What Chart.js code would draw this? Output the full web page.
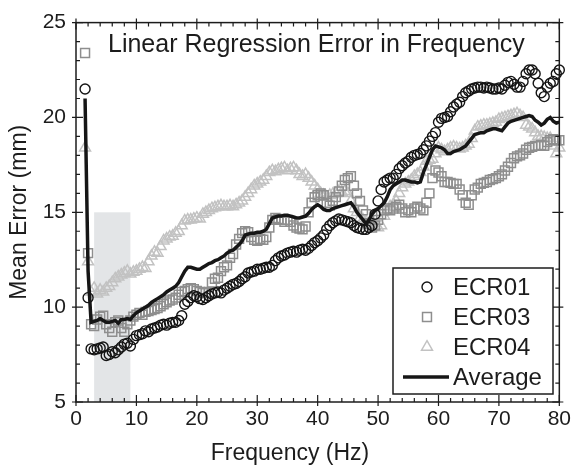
<!DOCTYPE html>
<html>
<head>
<meta charset="utf-8">
<script src="https://cdn.jsdelivr.net/npm/chart.js@4.4.1/dist/chart.umd.min.js"></script>
<style>
  html, body { margin:0; padding:0; background:#fff; }
  #wrap { width:576px; height:465px; }
</style>
</head>
<body>
<div id="wrap"><canvas id="errChart" width="576" height="465"></canvas></div>
<script>
// ========== Data ==========
const freqHz = [
  1.5, 2, 2.5, 3, 3.5, 4, 4.5,
  5, 5.5, 6, 6.5, 7, 7.5, 8, 8.5, 9, 9.5,
  10, 10.5, 11, 11.5, 12, 12.5, 13, 13.5, 14, 14.5,
  15, 15.5, 16, 16.5, 17, 17.5, 18, 18.5, 19, 19.5,
  20, 20.5, 21, 21.5, 22, 22.5, 23, 23.5, 24, 24.5,
  25, 25.5, 26, 26.5, 27, 27.5, 28, 28.5, 29, 29.5,
  30, 30.5, 31, 31.5, 32, 32.5, 33, 33.5, 34, 34.5,
  35, 35.5, 36, 36.5, 37, 37.5, 38, 38.5, 39, 39.5,
  40, 40.5, 41, 41.5, 42, 42.5, 43, 43.5, 44, 44.5,
  45, 45.5, 46, 46.5, 47, 47.5, 48, 48.5, 49, 49.5,
  50, 50.5, 51, 51.5, 52, 52.5, 53, 53.5, 54, 54.5,
  55, 55.5, 56, 56.5, 57, 57.5, 58, 58.5, 59, 59.5,
  60, 60.5, 61, 61.5, 62, 62.5, 63, 63.5, 64, 64.5,
  65, 65.5, 66, 66.5, 67, 67.5, 68, 68.5, 69, 69.5,
  70, 70.5, 71, 71.5, 72, 72.5, 73, 73.5, 74, 74.5,
  75, 75.5, 76, 76.5, 77, 77.5, 78, 78.5, 79, 79.5,
  80
];

const ecr01 = [
  21.5, 10.5, 7.8, 7.75, 7.8, 7.85, 7.9,
  7.45, 7.5, 7.65, 7.6, 7.75, 7.9, 8.05, 8.1, 7.95, 8.3,
  8.5, 8.55, 8.6, 8.75, 8.7, 8.85, 8.9, 8.95, 9.05, 9.1,
  9.05, 9.15, 9.2, 9.2, 9.3, 9.55, 10.15, 10.3, 10.5, 10.6,
  10.55, 10.45, 10.4, 10.5, 10.6, 10.7, 10.75, 10.8, 10.75, 10.9,
  11.0, 11.1, 11.2, 11.25, 11.35, 11.5, 11.6, 11.8, 11.85, 11.9,
  12.0, 12.0, 12.05, 12.1, 12.1, 12.2, 12.45, 12.6, 12.7, 12.75,
  12.85, 12.9, 12.95, 12.9, 13.0, 13.05, 13.0, 13.1, 13.25, 13.4,
  13.5, 13.65, 13.8, 14.1, 14.3, 14.45, 14.55, 14.65, 14.6, 14.55,
  14.5, 14.45, 14.3, 14.2, 14.15, 14.1, 14.1, 14.2, 14.3, 14.9,
  15.6, 16.2, 16.6, 16.7, 16.8, 16.8, 17.0, 17.3, 17.45, 17.6,
  17.7, 17.9, 18.0, 18.05, 18.1, 18.3, 18.5, 18.75, 19.0, 19.2,
  19.75, 19.95, 20.0, 20.05, 20.3, 20.55, 20.7, 20.8, 21.1, 21.3,
  21.4, 21.5, 21.55, 21.6, 21.6, 21.55, 21.6, 21.55, 21.5, 21.5,
  21.55, 21.5, 21.7, 21.85, 21.9, 21.75, 21.6, 21.6, 21.9, 22.3,
  22.5, 22.5, 22.3, 21.8, 21.3, 21.1, 21.6, 21.8, 21.9, 22.3,
  22.5
];

const ecr03 = [
  23.4, 12.85, 9.1, 9.0, 9.35, 9.5, 9.55,
  9.1, 8.9, 8.7, 9.2, 9.3, 8.9, 8.7, 9.1, 9.3, 9.5,
  9.6, 9.7, 9.6, 9.75, 9.8, 9.85, 9.9, 9.95, 10.05, 10.15,
  10.25, 10.35, 10.4, 10.5, 10.65, 10.8, 10.85, 10.95, 11.0, 10.95,
  10.85, 10.8, 10.75, 10.75, 10.8, 11.3, 11.5, 11.55, 11.9, 12.1,
  12.2, 12.6, 12.8, 13.3, 13.6, 13.9, 14.0, 13.95, 13.7, 13.55,
  13.5, 13.6, 13.55, 13.7, 14.2, 14.6, 14.7, 14.65, 14.6, 14.5,
  14.6, 14.5, 14.3, 14.2, 14.15, 14.1, 14.25, 15.0, 15.5, 15.8,
  15.9, 16.0, 15.9, 15.5, 15.35, 15.6, 15.8, 16.1, 16.4, 16.7,
  16.8, 16.9, 16.4, 16.0, 15.6, 15.1, 14.9, 14.4, 14.2, 14.3,
  14.6, 14.9, 15.1, 15.2, 15.1, 15.2, 15.3, 15.4, 15.2, 15.0,
  15.1, 15.0, 15.2, 15.3, 15.2, 15.1, 15.5, 16.0, 16.8, 17.2,
  17.1, 16.9, 16.6, 16.6, 16.55, 16.5, 16.5, 16.2, 15.9, 15.5,
  15.4, 15.9, 16.2, 16.3, 16.5, 16.55, 16.6, 16.7, 16.75, 16.8,
  16.9, 17.0, 17.2, 17.4, 17.6, 17.85, 17.95, 18.0, 18.1, 18.3,
  18.4, 18.45, 18.5, 18.5, 18.55, 18.5, 18.7, 18.8, 18.85, 18.8,
  18.8
];

const ecr04 = [
  18.4, 12.4, 10.8, 11.0, 10.7, 10.9, 10.8,
  11.0, 11.1, 11.3, 11.5, 11.6, 11.7, 11.8, 11.9, 11.75, 11.85,
  11.9, 12.0, 12.1, 12.05, 12.4, 12.7, 12.9, 12.85, 13.2, 13.5,
  13.6, 13.7, 13.75, 13.9, 14.0, 14.3, 14.55, 14.6, 14.6, 14.65,
  14.7, 14.65, 14.9, 15.0, 15.1, 15.2, 15.25, 15.3, 15.35, 15.3,
  15.3, 15.35, 15.3, 15.4, 15.5, 15.6, 15.8, 16.0, 16.2, 16.4,
  16.5, 16.6, 16.7, 16.9, 17.1, 17.2, 17.15, 17.25, 17.3, 17.35,
  17.2, 17.3, 17.35, 17.2, 17.0, 16.9, 17.0, 16.8, 16.6, 16.4,
  16.2, 16.0, 15.9, 15.8, 15.9, 15.95, 16.0, 16.1, 16.05, 16.1,
  16.0, 15.6, 15.2, 15.0, 14.7, 14.6, 14.5, 14.4, 14.3, 14.25,
  14.2, 14.3, 14.8, 15.1, 15.3, 15.4, 15.6, 16.0, 16.3, 16.5,
  16.6, 16.7, 16.9, 17.0, 17.1, 17.4, 17.7, 17.75, 17.8, 18.1,
  18.4, 18.3, 18.2, 18.3, 18.4, 18.45, 18.4, 18.35, 18.4, 18.5,
  18.6, 18.9, 19.3, 19.5, 19.55, 19.6, 19.6, 19.65, 19.7, 19.75,
  19.9, 19.95, 20.0, 20.05, 20.1, 20.15, 20.2, 20.1, 20.0, 19.6,
  19.5, 19.4, 19.2, 19.0, 19.0, 18.95, 18.9, 18.9, 18.5, 18.1,
  18.4
];

const average = [
  21.0, 11.9, 9.2, 9.25, 9.3, 9.4, 9.3,
  9.2, 9.2, 9.25, 9.3, 9.15, 9.35, 9.35, 9.4, 9.35, 9.55,
  9.7, 9.8, 9.9, 10.0, 10.1, 10.25, 10.35, 10.45, 10.55, 10.65,
  10.8, 10.9, 11.0, 11.1, 11.3, 11.6, 11.9, 12.1, 12.1, 12.05,
  12.0, 12.0, 12.1, 12.2, 12.3, 12.35, 12.45, 12.5, 12.6, 12.7,
  12.85, 12.95, 13.0, 13.15, 13.3, 13.5, 13.8, 13.85, 13.9, 13.9,
  13.95, 13.95, 14.0, 14.1, 14.4, 14.7, 14.75, 14.8, 14.8, 14.85,
  14.85, 14.8, 14.75, 14.7, 14.7, 14.75, 14.8, 14.95, 15.15, 15.3,
  15.4, 15.3, 15.15, 15.1, 15.1, 15.2, 15.25, 15.3, 15.35, 15.4,
  15.45, 15.5, 15.3, 15.0, 14.8, 14.6, 14.4, 14.6, 14.9, 15.1,
  15.2, 15.35, 15.5, 15.8, 16.2, 16.4, 16.5, 16.6, 16.7, 16.7,
  16.65, 16.6, 16.6, 16.55, 16.6, 17.1, 17.5, 17.9, 18.3, 18.5,
  18.45, 18.4, 18.3, 18.1, 18.1, 18.2, 18.25, 18.3, 18.4, 18.5,
  18.7, 18.9, 19.1, 19.15, 19.2, 19.2, 19.3, 19.35, 19.4, 19.4,
  19.35, 19.3, 19.5, 19.7, 19.8, 19.85, 19.9, 19.95, 20.0, 20.05,
  20.1, 20.05, 19.85, 19.75, 19.6, 19.7, 19.9, 20.0, 19.8, 19.7,
  19.75
];

// shaded band (Hz range x Error range)
const bandHz = [3, 9];
const bandMm = [5, 15];

const xTicks = [0, 10, 20, 30, 40, 50, 60, 70, 80];
const yTicks = [5, 10, 15, 20, 25];

const titleText = 'Linear Regression Error in Frequency';
const xTitle = 'Frequency (Hz)';
const yTitle = 'Mean Error (mm)';
const legendItems = ['ECR01', 'ECR03', 'ECR04', 'Average'];

// ========== Helpers ==========
const FONT = '"Liberation Sans", Arial, Helvetica, sans-serif';
const INK = '#1c1c1c';
const C01 = '#141414', C03 = '#8e8e8e', C04 = '#c2c2c2';

function pts(vals) { return freqHz.map((f, i) => ({ x: f, y: vals[i] })); }

// band, frame, ticks, titles, legend
const decor = {
  id: 'decor',
  beforeDatasetsDraw(chart) {
    const { ctx, scales: { x, y } } = chart;
    ctx.save();
    ctx.fillStyle = '#e3e5e7';
    const l = x.getPixelForValue(bandHz[0]), r = x.getPixelForValue(bandHz[1]);
    const t = y.getPixelForValue(bandMm[1]), b = y.getPixelForValue(bandMm[0]);
    ctx.fillRect(l, t, r - l, b - t);
    ctx.restore();
  },
  afterDatasetsDraw(chart) {
    const { ctx, chartArea: a, scales: { x, y } } = chart;
    ctx.save();
    ctx.strokeStyle = INK;
    ctx.lineWidth = 1.5;
    ctx.strokeRect(a.left, a.top, a.right - a.left, a.bottom - a.top);
    ctx.lineWidth = 1.2;
    ctx.beginPath();
    for (let v = 0; v <= 80; v += 2) {
      const px = x.getPixelForValue(v);
      const major = v % 10 === 0;
      const inL = major ? 7 : 4, outL = major ? 4 : 0;
      ctx.moveTo(px, a.bottom + outL); ctx.lineTo(px, a.bottom - inL);
      ctx.moveTo(px, a.top - outL); ctx.lineTo(px, a.top + inL);
    }
    for (let v = 5; v <= 25; v += 1) {
      const py = y.getPixelForValue(v);
      const major = v % 5 === 0;
      const inL = major ? 7 : 4, outL = major ? 4 : 0;
      ctx.moveTo(a.left - outL, py); ctx.lineTo(a.left + inL, py);
      ctx.moveTo(a.right + outL, py); ctx.lineTo(a.right - inL, py);
    }
    ctx.stroke();

    // title inside the plot
    ctx.fillStyle = INK;
    ctx.font = '25px ' + FONT;
    ctx.textAlign = 'left';
    ctx.textBaseline = 'alphabetic';
    ctx.fillText(titleText, 108, 52);

    // legend
    const bx = 393, by = 268, bw = 160, bh = 126;
    ctx.fillStyle = '#fff';
    ctx.fillRect(bx, by, bw, bh);
    ctx.lineWidth = 1.5;
    ctx.strokeStyle = INK;
    ctx.strokeRect(bx, by, bw, bh);
    const ds = chart.data.datasets;
    const order = [1, 2, 3, 0];
    legendItems.forEach((label, i) => {
      const cy = 287 + i * 30;
      const d = ds[order[i]];
      ctx.strokeStyle = d.borderColor;
      ctx.lineWidth = d.borderWidth;
      if (d.showLine) {
        ctx.beginPath(); ctx.moveTo(403, cy); ctx.lineTo(449, cy); ctx.stroke();
      } else {
        ctx.fillStyle = 'rgba(0,0,0,0)';
        Chart.helpers.drawPoint(ctx, { pointStyle: d.pointStyle, radius: d.pointRadius, borderWidth: d.borderWidth }, 427, cy);
      }
      ctx.fillStyle = INK;
      ctx.font = '24px ' + FONT;
      ctx.fillText(label, 453, cy + 8);
    });
    ctx.restore();
  },
  afterDraw(chart) {
    const { ctx, chartArea: a } = chart;
    ctx.save();
    ctx.fillStyle = INK;
    ctx.font = '23px ' + FONT;
    ctx.textAlign = 'center';
    ctx.textBaseline = 'alphabetic';
    ctx.fillText(xTitle, 290, 460);
    ctx.translate(26, (a.top + a.bottom) / 2);
    ctx.rotate(-Math.PI / 2);
    ctx.fillText(yTitle, 0, 0);
    ctx.restore();
  }
};

// ========== Chart ==========
const ctx = document.getElementById('errChart').getContext('2d');
const errChart = new Chart(ctx, {
  type: 'scatter',
  data: {
    datasets: [
      { label: 'Average', data: pts(average), showLine: true, borderColor: '#161616', borderWidth: 3.5,
        pointRadius: 0, pointHoverRadius: 0, backgroundColor: 'transparent', clip: false },
      { label: 'ECR01', data: pts(ecr01), pointStyle: 'circle', pointRadius: 5, borderWidth: 1.4,
        borderColor: C01, backgroundColor: 'transparent', clip: false },
      { label: 'ECR03', data: pts(ecr03), pointStyle: 'rect', pointRadius: 6.3, borderWidth: 1.5,
        borderColor: C03, backgroundColor: 'transparent', clip: false },
      { label: 'ECR04', data: pts(ecr04), pointStyle: 'triangle', pointRadius: 6.3, borderWidth: 1.5,
        borderColor: C04, backgroundColor: 'transparent', clip: false }
    ]
  },
  options: {
    responsive: false,
    animation: false,
    devicePixelRatio: 1,
    layout: { padding: { top: 15, right: 16, left: 0, bottom: 0 } },
    plugins: { legend: { display: false }, tooltip: { enabled: false } },
    scales: {
      x: {
        type: 'linear', min: 0, max: 80,
        grid: { display: false, drawTicks: false },
        border: { display: false },
        afterBuildTicks: s => { s.ticks = xTicks.map(v => ({ value: v })); },
        afterFit: s => { s.height = 63; },
        ticks: { color: INK, padding: 5, font: { size: 21, family: FONT }, maxRotation: 0 }
      },
      y: {
        min: 5, max: 25,
        grid: { display: false, drawTicks: false },
        border: { display: false },
        afterBuildTicks: s => { s.ticks = yTicks.map(v => ({ value: v })); },
        afterFit: s => { s.width = 76; },
        ticks: { color: INK, padding: 10, font: { size: 21, family: FONT } }
      }
    }
  },
  plugins: [decor]
});
</script>
</body>
</html>
